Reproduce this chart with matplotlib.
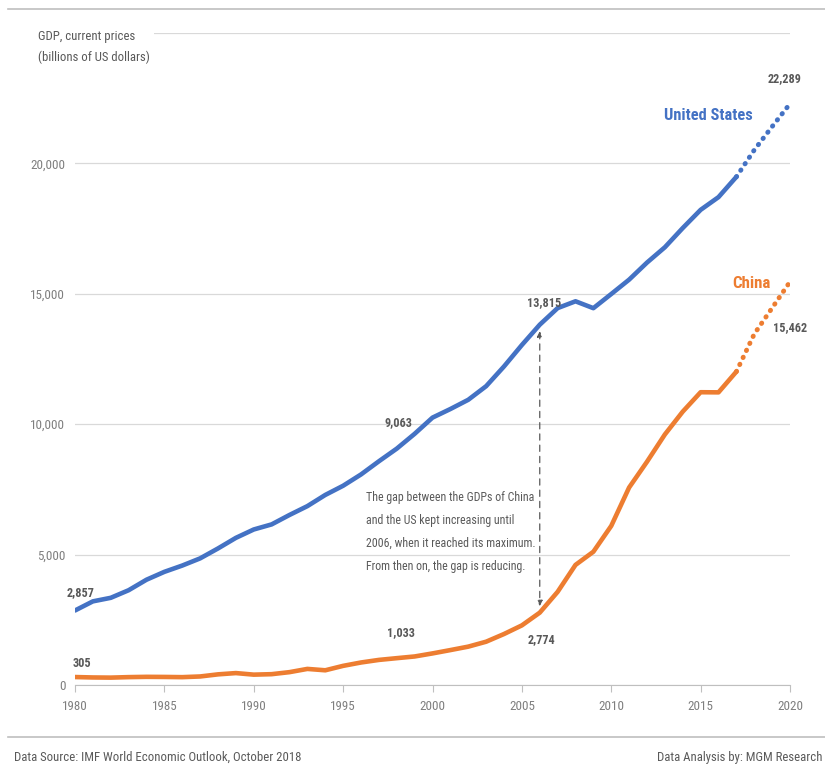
import os
import matplotlib.pyplot as plt
from matplotlib import font_manager
from matplotlib.font_manager import FontProperties
from matplotlib.lines import Line2D

years = list(range(1980, 2021))
us_gdp = [2857, 3207, 3343, 3634, 4037, 4339, 4580, 4855, 5236, 5642,
          5963, 6158, 6520, 6859, 7287, 7640, 8073, 8578, 9063, 9631,
          10252, 10582, 10936, 11458, 12214, 13037, 13815, 14452, 14713, 14449,
          14992, 15543, 16197, 16785, 17522, 18219, 18707, 19485, 20513, 21410,
          22289]
china_gdp = [305, 289, 283, 302, 313, 309, 301, 327, 408, 457,
             397, 415, 493, 617, 564, 734, 863, 962, 1029, 1094,
             1211, 1339, 1471, 1660, 1955, 2286, 2774, 3572, 4605, 5110,
             6101, 7573, 8561, 9607, 10482, 11226, 11221, 12015, 13457, 14457,
             15462]
last_actual = 2017  # after this, IMF projection (dotted)

labels = [  # (series, year, text)
    ("us", 1980, "2,857"), ("us", 1998, "9,063"), ("us", 2006, "13,815"), ("us", 2020, "22,289"),
    ("cn", 1980, "305"), ("cn", 1998, "1,033"), ("cn", 2006, "2,774"), ("cn", 2020, "15,462"),
]

BLUE = "#4472C4"
ORANGE = "#ED7D31"
GREY = "#595959"
LIGHT = "#7F7F7F"

# narrow fonts, closest to the squeezed Calibri of the original
CANDIDATES = [
    ("RobotoCondensed-Regular.ttf", "RobotoCondensed-Bold.ttf", 1.0),
    ("LiberationSansNarrow-Regular.ttf", "LiberationSansNarrow-Bold.ttf", 1.0),
    ("NotoSans-Condensed.ttf", "NotoSans-CondensedBold.ttf", 1.0),
    ("DejaVuSansCondensed.ttf", "DejaVuSansCondensed-Bold.ttf", 0.82),
]
have = {os.path.basename(f.fname): f.fname for f in font_manager.fontManager.ttflist}
reg_path = bold_path = None
scale = 0.8
for r, b, s in CANDIDATES:
    if r in have:
        reg_path, bold_path, scale = have[r], have.get(b, have[r]), s
        break


def fp(size, bold=False):
    path = bold_path if bold else reg_path
    if path is None:
        return FontProperties(family="DejaVu Sans", size=size * scale,
                              weight="bold" if bold else "normal")
    return FontProperties(fname=path, size=size * scale)


fig = plt.figure(figsize=(8.25, 7.68), dpi=100)
ax = fig.add_axes([75 / 825, 83 / 768, 715 / 825, 652 / 768])

k = years.index(last_actual) + 1
for vals, col in ((us_gdp, BLUE), (china_gdp, ORANGE)):
    ax.plot(years[:k], vals[:k], color=col, lw=3.3, solid_capstyle="round",
            solid_joinstyle="round", zorder=3)
    ax.plot(years[k - 1:], vals[k - 1:], color=col, lw=3.5, linestyle=(0, (0.1, 1.5)),
            dash_capstyle="round", zorder=3)

ax.set_xlim(1980, 2020)
ax.set_ylim(0, 25000)
ax.set_yticks(range(0, 25001, 5000))
ax.set_yticklabels(["0", "5,000", "10,000", "15,000", "20,000", ""])
ax.set_xticks(range(1980, 2021, 5))
ax.grid(axis="y", color="#D9D9D9", lw=0.9)
ax.set_axisbelow(True)
for s in ("top", "right", "left"):
    ax.spines[s].set_visible(False)
ax.spines["bottom"].set_color("#BFBFBF")
ax.tick_params(axis="y", length=0, labelcolor=LIGHT, pad=7)
ax.tick_params(axis="x", length=5, color="#BFBFBF", labelcolor=LIGHT, pad=6)
for t in ax.get_xticklabels() + ax.get_yticklabels():
    t.set_fontproperties(fp(9.4))

# value labels, offsets in pixels from the point
offsets = {
    ("us", 1980): (-8, 18), ("us", 1998): (-12, 26),
    ("us", 2006): (-13, 22), ("us", 2020): (-22, 25),
    ("cn", 1980): (-2, 14), ("cn", 1998): (-10, 26),
    ("cn", 2006): (-12, -27), ("cn", 2020): (-17, -46),
}
for ser, yr, txt in labels:
    vals = us_gdp if ser == "us" else china_gdp
    dx, dy = offsets[(ser, yr)]
    ax.annotate(txt, (yr, vals[years.index(yr)]), xytext=(dx, dy), textcoords="offset pixels",
                ha="left", va="center", fontproperties=fp(8.8, True), color=GREY,
                annotation_clip=False)

ax.text(2017.9, 21850, "United States", color=BLUE, fontproperties=fp(11.8, True),
        ha="right", va="center")
ax.text(2018.9, 15400, "China", color=ORANGE, fontproperties=fp(12.2, True),
        ha="right", va="center")

# gap arrow
i06 = years.index(2006)
ax.annotate("", xy=(2006, china_gdp[i06] + 250), xytext=(2006, us_gdp[i06] - 250),
            arrowprops=dict(arrowstyle="<|-|>", color=GREY, lw=0.9, linestyle=(0, (5, 4)),
                            mutation_scale=8, shrinkA=0, shrinkB=0))
ax.text(1996.3, 7450, "The gap between the GDPs of China\nand the US kept increasing until\n"
        "2006, when it reached its maximum.\nFrom then on, the gap is reducing.",
        fontproperties=fp(8.6), color=GREY, ha="left", va="top", linespacing=2.0)

fig.text(38 / 825, 1 - 47 / 768, "GDP, current prices\n(billions of US dollars)",
         fontproperties=fp(9.2), color=GREY, ha="left", va="center", linespacing=1.8,
         bbox=dict(facecolor="white", edgecolor="none", pad=3))

fig.add_artist(Line2D([8 / 825, 1], [1 - 9 / 768] * 2, color="#BFBFBF", lw=1.2))
fig.add_artist(Line2D([8 / 825, 1], [1 - 737 / 768] * 2, color="#BFBFBF", lw=1.2))
fig.text(14 / 825, 1 - 757 / 768, "Data Source: IMF World Economic Outlook, October 2018",
         fontproperties=fp(9.2), color=GREY, ha="left", va="center")
fig.text(822 / 825, 1 - 757 / 768, "Data Analysis by: MGM Research",
         fontproperties=fp(9.2), color=GREY, ha="right", va="center")

fig.savefig("out.png", dpi=100)
